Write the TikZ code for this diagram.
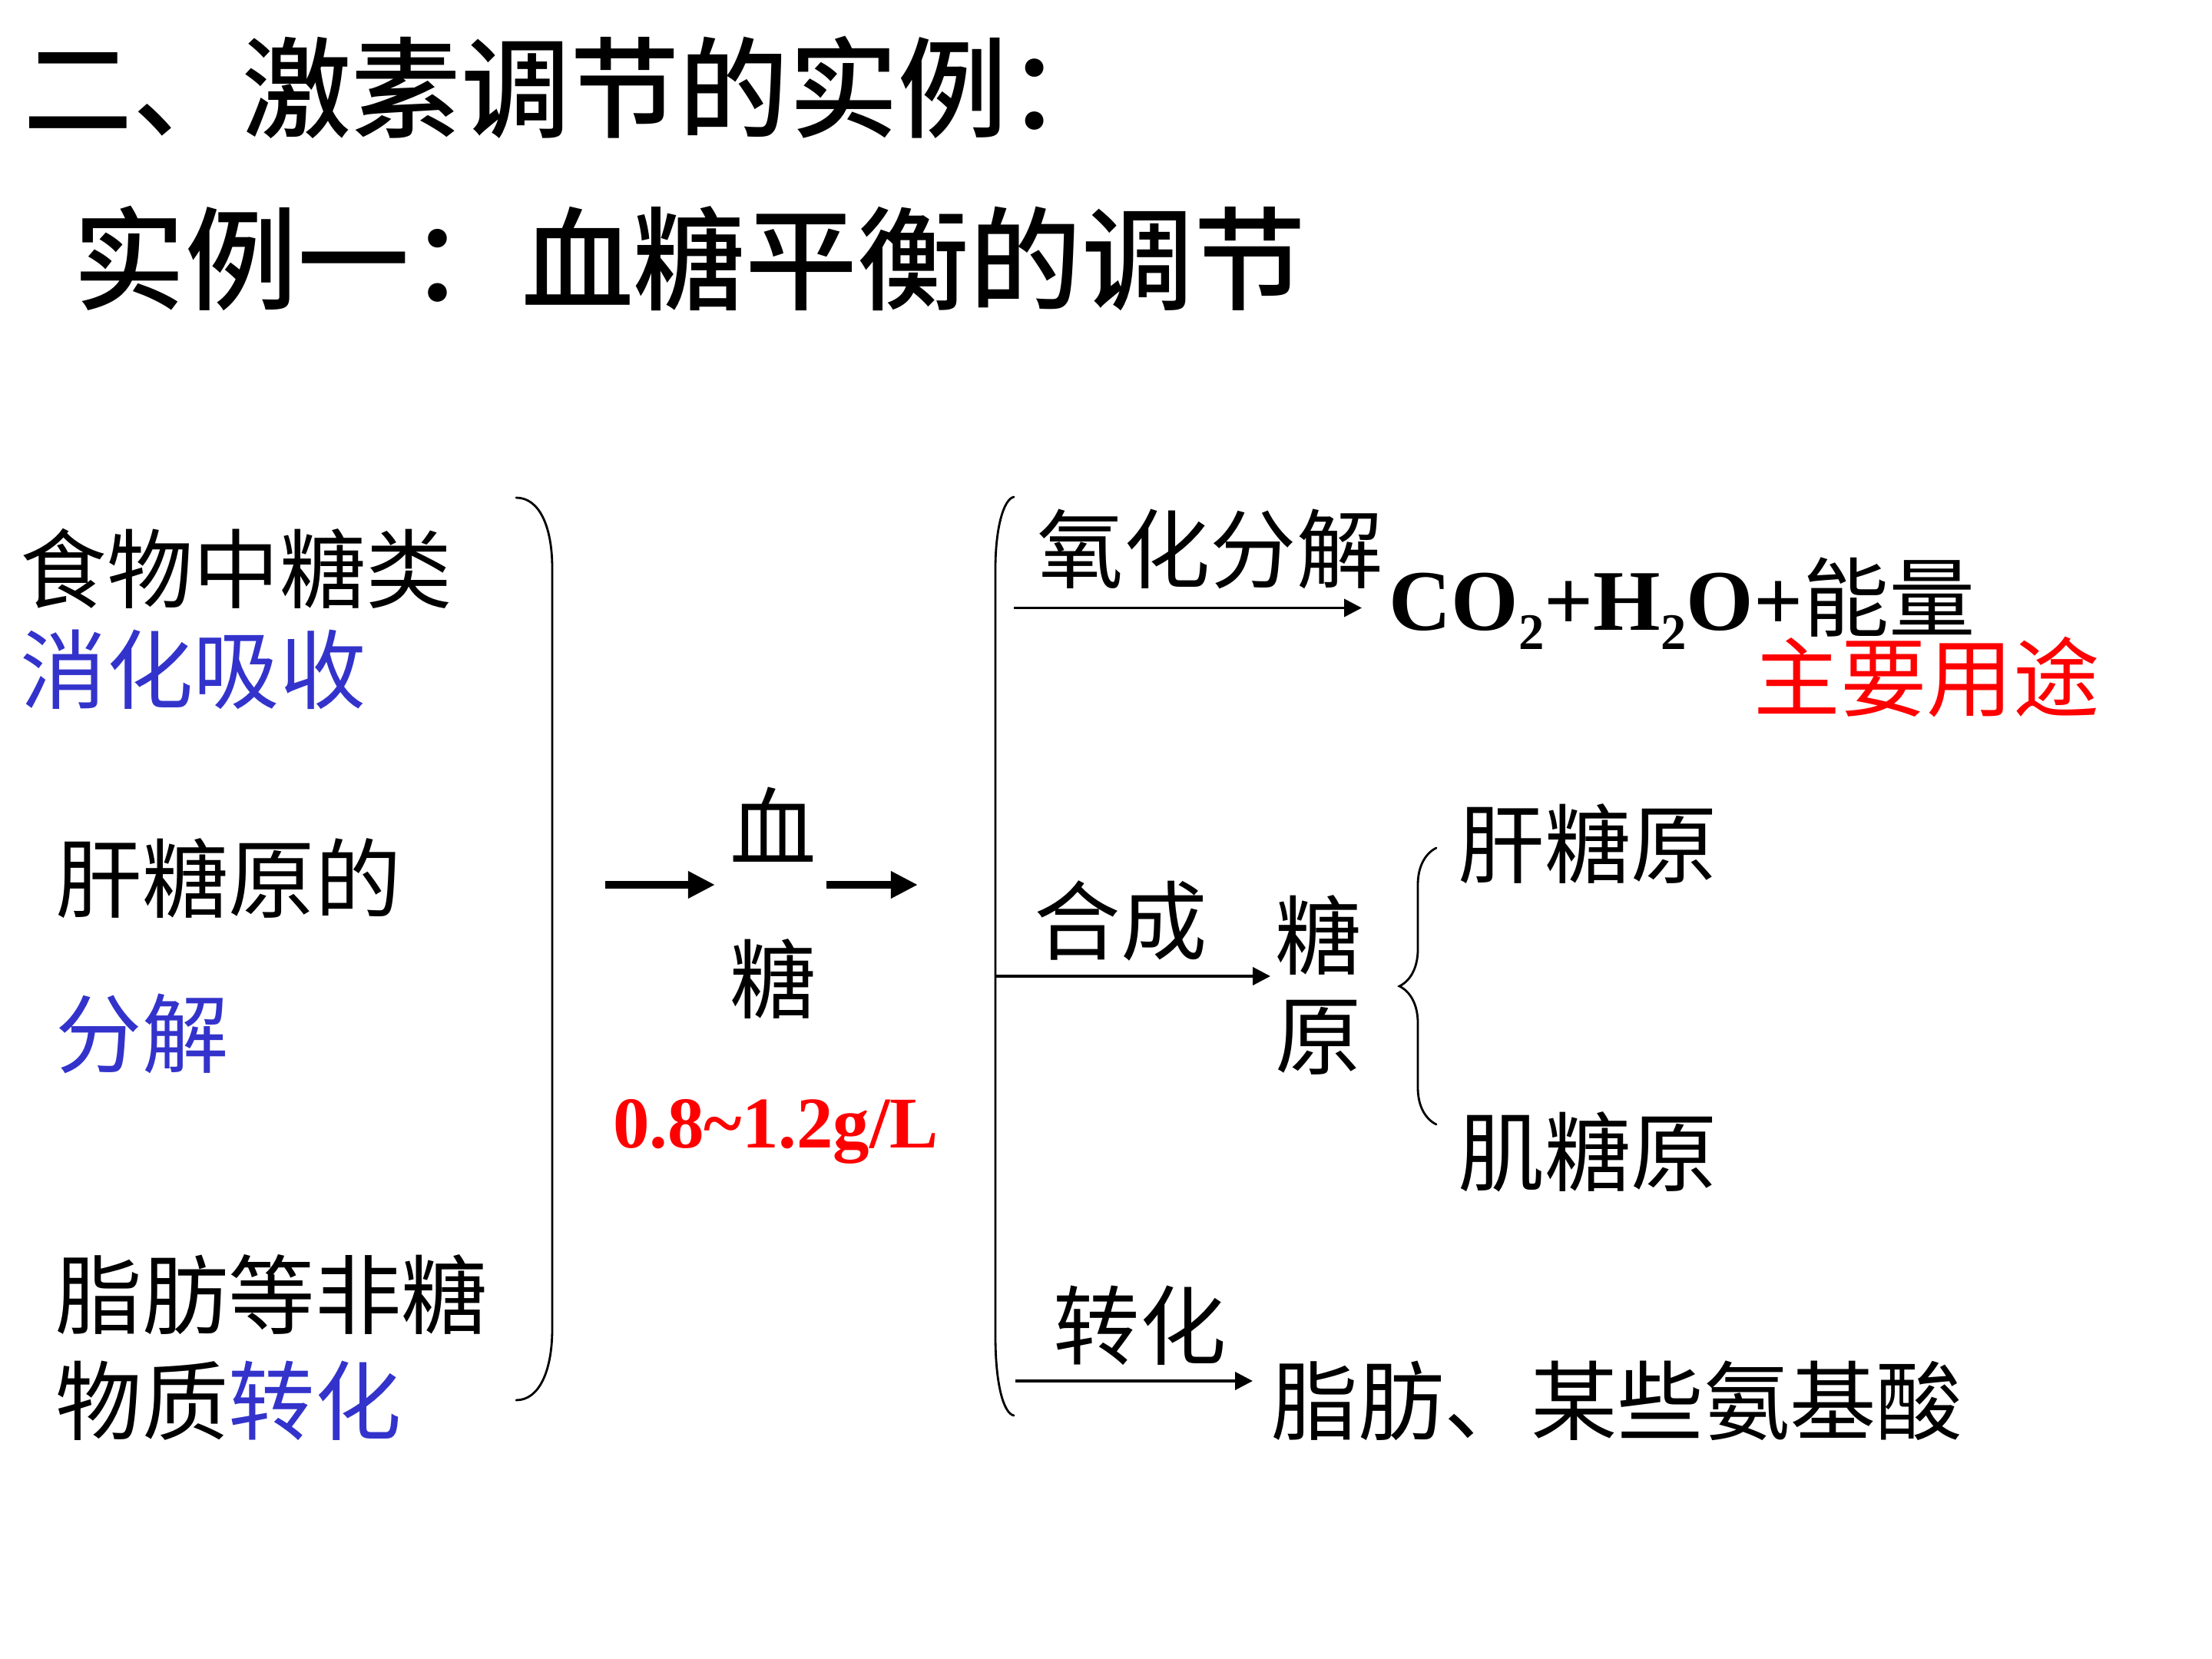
\documentclass[tikz,border=0pt]{standalone}
\usepackage{fontspec}
\setmainfont{Liberation Serif}
\newfontfamily\cjk{Noto Sans CJK SC}[BoldFont={Noto Sans CJK SC Medium}]
\usetikzlibrary{arrows.meta,decorations.pathreplacing}
\definecolor{digestblue}{RGB}{51,51,204}
\definecolor{keyred}{RGB}{255,0,0}

\begin{document}
\begin{tikzpicture}[x=1cm,y=-1cm,
  heading/.style={anchor=west,inner sep=0pt,font=\cjk\bfseries\fontsize{40.5}{48}\selectfont},
  body/.style={anchor=west,inner sep=0pt,font=\cjk\fontsize{32}{38}\selectfont},
  single/.style={inner sep=0pt,font=\cjk\fontsize{32}{38}\selectfont},
  fatarrow/.style={line width=3pt,-{Triangle[length=10pt,width=9.5pt]}},
  slimarrow/.style={line width=1.1pt,-{Triangle[length=6.5pt,width=6.5pt]}},
  bracketline/.style={line width=0.8pt,line cap=round}]
\useasboundingbox[fill=white] (0,0) rectangle (28.8,21.6);

\node[heading] (title) at (0.30,1.14) {二、激素调节的实例：};
\node[heading,font=\cjk\bfseries\fontsize{41.5}{48}\selectfont] (subtitle) at (0.95,3.36) {实例一：血糖平衡的调节};

\node[body] (food) at (0.26,7.40) {食物中糖类};
\node[body,text=digestblue] (digest) at (0.26,8.72) {消化吸收};
\node[body] (liver) at (0.72,11.44) {肝糖原的};
\node[body,text=digestblue] (split) at (0.72,13.46) {分解};
\node[body] (fat) at (0.72,16.86) {脂肪等非糖};
\node[body] (matter) at (0.72,18.24) {物质{\color{digestblue}转化}};

\draw[bracketline] (6.72,6.48) .. controls (7.02,6.48) and (7.19,6.85) .. (7.19,7.40)
  -- (7.19,17.30) .. controls (7.19,17.85) and (7.02,18.23) .. (6.72,18.23);

\node[single] (xue) at (10.07,10.74) {血};
\node[single] (tang) at (10.07,12.75) {糖};
\node[inner sep=0pt,text=keyred,font=\bfseries\fontsize{27}{30}\selectfont] (range) at (10.10,14.73) {0.8\textasciitilde1.2g/L};

\coordinate (inL) at (7.88,11.52);
\coordinate (inR) at (9.31,11.52);
\coordinate (outL) at (10.76,11.52);
\coordinate (outR) at (11.95,11.52);
\draw[fatarrow] (inL) -- (inR);
\draw[fatarrow] (outL) -- (outR);

\draw[bracketline] (13.20,6.47) .. controls (13.06,6.50) and (12.96,6.90) .. (12.96,7.40)
  -- (12.96,17.40) .. controls (12.96,18.00) and (13.06,18.40) .. (13.20,18.43);

\node[body] (oxid) at (13.50,7.15) {氧化分解};
\node[anchor=base west,inner sep=0pt,font=\bfseries\fontsize{32}{38}\selectfont] (co2) at (18.08,8.21)
  {CO\raisebox{-0.22em}{\fontsize{19}{19}\selectfont 2}+H\raisebox{-0.22em}{\fontsize{19}{19}\selectfont 2}O+{\cjk\mdseries 能量}};
\node[body,text=keyred] (use) at (22.83,8.82) {主要用途};
\coordinate (oxL) at (13.20,7.915);
\draw[slimarrow] (oxL) -- ([xshift=-0.35cm]co2.west |- oxL);

\node[body] (synth) at (13.46,11.99) {合成};
\node[single] (tang2) at (17.17,12.18) {糖};
\node[single] (yuan2) at (17.17,13.51) {原};
\coordinate (synL) at (12.96,12.71);
\draw[slimarrow] (synL) -- ([xshift=-0.06cm]tang2.west |- synL);

\draw[bracketline,decorate,decoration={brace,amplitude=0.48cm}] (18.70,14.64) -- (18.70,11.04);
\node[body] (liverg) at (18.98,10.99) {肝糖原};
\node[body] (muscleg) at (18.98,15.00) {肌糖原};

\node[body] (convert) at (13.71,17.26) {转化};
\node[body] (products) at (16.55,18.24) {脂肪、某些氨基酸};
\coordinate (cvL) at (13.22,17.98);
\draw[slimarrow] (cvL) -- ([xshift=-0.24cm]products.west |- cvL);
\end{tikzpicture}
\end{document}
